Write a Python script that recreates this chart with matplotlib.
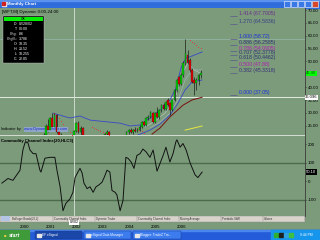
import matplotlib
matplotlib.use('Agg')
import matplotlib.pyplot as plt
from matplotlib.patches import Rectangle
import matplotlib.transforms as mtrans
import numpy as np

plt.rcParams['font.family'] = ['Liberation Sans', 'DejaVu Sans']

# ---------------- data ----------------
candle_months = [
    '1999-01','1999-02','1999-03','1999-04','1999-05','1999-06','1999-07','1999-08','1999-09','1999-10','1999-11','1999-12',
    '2000-01','2000-02','2000-03','2000-04','2000-05','2000-06','2000-07','2000-08','2000-09','2000-10','2000-11','2000-12',
    '2001-01','2001-02','2001-03','2001-04','2001-05','2001-06','2001-07','2001-08','2001-09','2001-10','2001-11','2001-12',
    '2002-01','2002-02','2002-03','2002-04','2002-05','2002-06','2002-07','2002-08','2002-09','2002-10','2002-11','2002-12',
    '2003-01','2003-02','2003-03','2003-04','2003-05','2003-06','2003-07','2003-08','2003-09','2003-10','2003-11','2003-12',
    '2004-01','2004-02','2004-03','2004-04','2004-05','2004-06','2004-07','2004-08','2004-09','2004-10','2004-11','2004-12',
    '2005-01','2005-02','2005-03','2005-04','2005-05','2005-06','2005-07','2005-08','2005-09','2005-10','2005-11','2005-12',
    '2006-01','2006-02','2006-03','2006-04','2006-05','2006-06','2006-07','2006-08','2006-09','2006-10','2006-11','2006-12']
opens = [10.5,9.0,9.5,12.6,15.2,14.0,16.3,17.8,17.0,15.6,14.4,15.0,
         17.0,19.0,20.4,19.2,17.6,20.0,18.8,17.0,19.6,19.0,17.4,19.0,
         21.5,25.0,23.5,28.0,24.5,29.0,22.5,21.0,18.0,14.0,15.8,15.0,
         16.8,19.35,22.85,26.0,22.5,24.0,19.5,17.0,18.6,16.8,19.0,18.2,
         19.8,19.0,18.4,19.6,21.8,22.5,21.0,19.2,17.4,17.2,18.2,17.6,
         19.2,20.8,22.4,23.4,22.6,23.5,23.0,23.5,24.5,26.4,25.3,28.0,
         28.4,29.8,26.4,29.9,28.4,31.1,33.0,31.5,35.0,33.8,31.1,35.0,
         38.9,43.9,41.2,44.7,49.4,52.5,50.5,46.7,42.8,41.6,42.8,44.7]
highs = [11.5,10.0,13.0,15.8,16.0,16.6,18.2,19.0,17.8,16.4,15.8,17.5,
         19.5,20.8,21.2,20.5,20.6,21.0,19.6,20.0,21.2,19.8,19.5,22.0,
         25.5,27.5,28.5,30.0,29.9,29.5,24.0,22.0,18.5,16.5,16.6,17.2,
         19.6,23.52,26.5,26.8,25.0,24.5,20.2,19.5,19.2,19.4,20.0,20.2,
         20.6,19.8,20.4,22.0,23.3,23.0,21.4,19.8,18.2,18.6,19.0,19.6,
         21.2,22.8,23.6,24.0,23.8,24.4,24.0,25.2,26.8,26.9,28.4,29.0,
         30.8,30.2,30.4,32.4,31.6,33.5,33.8,34.6,35.6,34.2,35.4,39.3,
         43.2,44.5,45.5,50.0,58.72,54.5,51.5,47.5,44.0,43.5,45.2,46.5]
lows = [8.5,8.2,9.2,12.0,13.5,13.6,15.5,16.5,15.0,13.8,13.5,14.6,
        16.2,17.8,18.5,17.0,17.2,18.0,16.5,16.8,18.5,16.5,16.0,18.5,
        21.0,22.5,23.0,24.0,24.0,22.0,20.0,17.0,12.5,13.5,14.2,14.0,
        16.4,18.255,22.5,22.0,21.5,19.0,16.0,16.4,16.2,16.0,17.8,17.8,
        18.6,17.6,18.0,19.2,21.0,20.5,18.6,17.0,16.4,16.8,17.0,17.2,
        18.8,20.2,21.6,22.2,21.8,22.6,22.4,23.0,24.0,24.8,25.0,27.2,
        28.0,26.0,26.0,28.0,27.5,30.5,31.0,31.0,32.6,29.1,30.8,34.5,
        38.2,40.5,40.8,44.0,48.8,49.0,46.0,41.5,37.05,39.0,41.0,43.5]
closes = [9.0,9.5,12.6,15.2,14.0,16.3,17.8,17.0,15.6,14.4,15.0,17.0,
          19.0,20.4,19.2,17.6,20.0,18.8,17.0,19.6,19.0,17.4,19.0,21.5,
          25.0,23.5,28.0,24.5,29.0,22.5,21.0,18.0,14.0,15.8,15.0,16.8,
          19.35,22.85,26.0,22.5,24.0,19.5,17.0,18.6,16.8,19.0,18.2,19.8,
          19.0,18.4,19.6,21.8,22.5,21.0,19.2,17.4,17.2,18.2,17.6,19.2,
          20.8,22.4,23.4,22.6,23.5,23.0,23.5,24.5,26.4,25.3,28.0,28.4,
          30.3,26.4,29.9,28.4,31.1,33.0,31.5,34.2,33.0,31.1,35.0,38.9,
          42.8,41.2,44.7,49.4,53.3,49.4,46.7,42.0,41.6,42.8,44.7,45.4]

upper_band_t = [2001.28,2001.55,2001.93,2002.31,2002.69,2003.07,2003.45,2003.84,2004.22,2004.60,2004.98,2005.36,2005.74,2005.97,2006.16,2006.35,2006.58,2006.97]
upper_band_v = [29.9,29.1,28.0,28.8,27.2,26.8,26.4,26.0,24.9,25.3,28.0,31.1,35.0,39.6,47.4,51.3,52.1,53.7]
lower_band_t = [2004.52,2004.98,2005.36,2005.74,2006.05,2006.32,2006.58,2006.97]
lower_band_v = [21.4,23.3,25.6,29.1,33.8,38.9,42.0,42.8]
fast_ma_t = [2004.79,2005.17,2005.55,2005.82,2006.05,2006.24,2006.43,2006.66,2006.97]
fast_ma_v = [24.5,26.8,29.9,33.4,38.9,45.9,49.4,46.7,45.1]
mid_ma_t = [2004.98,2005.36,2005.74,2006.05,2006.32,2006.58,2006.97]
mid_ma_v = [24.1,26.4,29.9,35.0,42.8,46.7,46.7]
slow_ma_t = [2005.06,2005.36,2005.74,2006.24,2006.58,2006.97]
slow_ma_v = [21.75,24.1,28.4,33.0,35.0,36.1]
yellow_t = [2006.32,2006.97]
yellow_v = [23.3,24.9]
sar_t = [2001.33,2001.42,2001.50,2001.58,2001.67,2001.75,2001.83,2001.92,2002.00,
         2002.75,2002.83,2002.92,2003.00,2003.08,2003.17,2003.25,2003.33,2003.42,
         2004.50,2004.58,2004.67,2004.75,
         2006.50,2006.58,2006.67,2006.75,2006.83,2006.92]
sar_v = [29.9,29.0,27.9,26.8,25.6,24.5,23.4,22.4,21.4,
         24.5,24.1,23.7,23.3,22.9,22.5,22.1,21.7,21.4,
         24.1,23.4,22.8,22.2,
         58.3,57.7,57.0,56.4,55.8,55.2]

fib_ratios = ['1.414','1.270','1.000','0.886','0.786','0.707','0.618','0.500','0.382','0.000']
fib_levels = [67.7005,64.5836,58.72,56.2585,54.0905,52.3778,50.4462,47.88,45.3318,37.05]
fib_colors = ['#6a2c8c','#3a3f86','#1a2ee0','#2b2f70','#b020b0','#2b2f70','#2b2f70','#b020b0','#3a2f78','#1a2ee0']

cci_t = [1999.33,1999.56,1999.75,2000.02,2000.13,2000.21,2000.32,2000.40,2000.52,2000.63,2000.78,2000.82,2000.97,
         2001.16,2001.35,2001.43,2001.55,2001.66,2001.77,2001.93,2002.04,2002.12,2002.23,2002.31,2002.39,2002.46,
         2002.58,2002.69,2002.81,2002.92,2003.03,2003.15,2003.23,2003.34,2003.45,2003.53,2003.65,2003.72,2003.84,
         2003.95,2004.06,2004.14,2004.26,2004.37,2004.48,2004.60,2004.71,2004.83,2004.98,2005.10,2005.25,2005.48,
         2005.59,2005.74,2005.86,2005.97,2006.01,2006.13,2006.24,2006.36,2006.51,2006.70,2006.81,2006.97]
cci_v = [-10,15,5,60,170,210,210,170,150,150,60,50,125,
         130,130,60,-30,-160,-120,-95,-60,20,50,70,45,-10,
         -40,-30,-60,-30,-20,-5,20,60,50,-50,-60,-75,-160,
         -105,130,125,105,70,140,150,175,160,130,170,55,140,
         185,105,150,215,225,185,205,170,100,35,20,50]

price_ticks = [25,30,35,40,45,50,55,60,65,70]
cci_ticks = [-100,0,100,200]
year_ticks = [2000,2001,2002,2003,2004,2005,2006]
cross_t = 2002.083
cross_price = 36.096
last_price = 45.40
last_cci = 50.10

# ---------------- figure ----------------
W, H = 320, 240
BG = '#7b9b7b'
fig = plt.figure(figsize=(3.2, 2.4), dpi=100)
fig.patch.set_facecolor(BG)

def fr(x0, y0, x1, y1):
    return [x0 / W, 1 - y1 / H, (x1 - x0) / W, (y1 - y0) / H]

# chrome (pixel coordinates, y down)
bg = fig.add_axes([0, 0, 1, 1], zorder=0)
bg.set_xlim(0, W); bg.set_ylim(H, 0); bg.axis('off')
bg.add_patch(Rectangle((0, 0), W, 8, color='#2f6ddc'))
bg.add_patch(Rectangle((0, 0), W, 1.2, color='#5a92ee'))
bg.add_patch(Rectangle((1.5, 1.5), 4, 4.5, color='#f2f2f2'))
bg.add_patch(Rectangle((2.3, 2.3), 2.4, 2.8, color='#d02020'))
bg.text(7, 4.2, 'Monthly Chart', color='white', fontsize=3.2, fontweight='bold', va='center')
for bx, col in [(284, '#3a78e6'), (291, '#3a78e6'), (298, '#3a78e6'), (305, '#3a78e6'), (312, '#d8482a')]:
    bg.add_patch(Rectangle((bx, 1), 6, 6, facecolor=col, edgecolor='white', lw=0.4))
# separator between panels
bg.plot([0, 305], [135, 135], color='#d6dcd2', lw=1.4, solid_capstyle='butt')
# tab strip
bg.add_patch(Rectangle((0, 215.5), 305, 6, facecolor='#d8d4cc', edgecolor='#8a8a8a', lw=0.3))
bg.add_patch(Rectangle((1, 216.3), 9, 4.4, facecolor='#b4c4e4', lw=0))
tabs = ['Bollinger Bands(20,2)', 'Commodity Channel Index', 'Dynamic Trader', 'Commodity Channel Index',
        'Moving Average', 'Parabolic SAR', 'Volume']
tx = 11
for t in tabs:
    bg.text(tx + 1, 218.6, t, fontsize=2.0, color='#303030', va='center')
    tx += 42
    bg.plot([tx, tx], [216, 221], color='#808080', lw=0.3)
# taskbar
bg.add_patch(Rectangle((0, 230), W, 10, color='#245bd8'))
bg.add_patch(Rectangle((0, 230), W, 0.8, color='#4a86ee'))
bg.add_patch(Rectangle((0, 230), 29, 10, color='#3f9a3a'))
bg.text(4, 235.2, '\u25a0', fontsize=3, color='#f0d040', va='center')
bg.text(9, 235.2, 'start', fontsize=3.8, color='white', fontweight='bold', style='italic', va='center')
for bx, bw, col, lab in [(35, 47, '#1b47a8', 'EF eSignal'), (84, 47, '#3c7cee', 'eSignal Data Manager'),
                         (133, 48, '#3c7cee', 'Blogger: TradeZ Tra...')]:
    bg.add_patch(Rectangle((bx, 231.2), bw, 8, facecolor=col, edgecolor='#1a3c90', lw=0.3))
    bg.add_patch(Rectangle((bx + 2, 233.5), 3.5, 3.5, color='#e8e8e8'))
    bg.text(bx + 7, 235.3, lab, fontsize=2.3, color='white', va='center')
bg.add_patch(Rectangle((271, 230), 49, 10, color='#1596ec'))
for ix, c in [(274, '#30b030'), (279, '#202020'), (284, '#30a0e0'), (289, '#40c040')]:
    bg.add_patch(Rectangle((ix, 233), 3.5, 4, color=c))
bg.text(300, 235.3, '9:44 PM', fontsize=2.4, color='white', va='center')

# price panel
ax_p = fig.add_axes(fr(0, 8, 305, 135), zorder=2)
ax_p.set_facecolor(BG)
xl = (1999.256, 2010.897)
ax_p.set_xlim(*xl); ax_p.set_ylim(21.4, 70.8)
for s in ['left', 'top', 'bottom']:
    ax_p.spines[s].set_visible(False)
ax_p.spines['right'].set_color('#3a3a3a'); ax_p.spines['right'].set_linewidth(0.6)
ax_p.set_xticks([])
ax_p.yaxis.tick_right()
ax_p.set_yticks(price_ticks)
# the 45.00 label sits under the last-price marker, as in the reference
ax_p.set_yticklabels(['' if t == 45 else f'{t:.2f}' for t in price_ticks])
ax_p.tick_params(axis='y', length=1, width=0.4, pad=0.8, labelsize=3.2, colors='black')

ax_p.axhline(58.72, color='#95b8aa', lw=0.5, zorder=1)
ax_p.axhline(cross_price, color='#e4ece4', lw=0.7, zorder=1)
ax_p.axvline(cross_t, color='#d8e4d8', lw=0.6, zorder=1)

ax_p.plot(upper_band_t, upper_band_v, color='#3b48c8', lw=0.6, zorder=2)
ax_p.plot(lower_band_t, lower_band_v, color='#3b48c8', lw=0.6, zorder=2)
ax_p.plot(fast_ma_t, fast_ma_v, color='#c0cccc', lw=0.4, zorder=2)
ax_p.plot(mid_ma_t, mid_ma_v, color='#a8b8c0', lw=0.4, zorder=2)
ax_p.plot(slow_ma_t, slow_ma_v, color='#7a1010', lw=0.7, zorder=2)
ax_p.plot(yellow_t, yellow_v, color='#e8e840', lw=0.7, zorder=2)
ax_p.scatter(sar_t, sar_v, s=0.6, color='#e03838', zorder=2, linewidths=0)

cd = np.array([int(m[:4]) + (int(m[5:]) - 1) / 12 for m in candle_months])
o = np.array(opens); h = np.array(highs); l = np.array(lows); c = np.array(closes)
up = c >= o
ax_p.vlines(cd, l, h, color='black', lw=0.4, zorder=3)
ax_p.bar(cd[up], (c - o)[up], bottom=o[up], width=0.065, color='#00cc00', edgecolor='#103010', lw=0.2, zorder=4)
ax_p.bar(cd[~up], (o - c)[~up], bottom=c[~up], width=0.065, color='#e00000', edgecolor='#301010', lw=0.2, zorder=4)

# fibonacci labels
seg_x0, seg_x1, lab_x = 2008.03, 2008.30, 2008.36
ax_p.hlines(fib_levels, seg_x0, seg_x1, colors='#5a5a8a', lw=0.5, zorder=2)
for r, v, col in zip(fib_ratios, fib_levels, fib_colors):
    val = f'{v:.4f}'.rstrip('0').rstrip('.')
    ax_p.text(lab_x, v, f'{r} ({val})', fontsize=3.7, color=col, va='bottom', ha='left', zorder=5)

ax_p.text(0.006, 0.985, '[WFT,M] Dynamic 0:00-24:00', transform=ax_p.transAxes, fontsize=3.2,
          color='black', va='top', ha='left')
ax_p.text(0.004, 0.045, 'Indicator by ', transform=ax_p.transAxes, fontsize=2.8, color='black', va='center')
ax_p.text(0.08, 0.045, 'www.DynamicTrader.com', transform=ax_p.transAxes, fontsize=2.8, color='#1a28c8',
          va='center', bbox=dict(boxstyle='square,pad=0.1', facecolor='#8fa6c8', edgecolor='none'))

blend_p = mtrans.blended_transform_factory(ax_p.transAxes, ax_p.transData)
ax_p.text(1.004, last_price, f'{last_price:.2f}', transform=blend_p, fontsize=3.0, color='#006000',
          va='center', ha='left', clip_on=False, zorder=6,
          bbox=dict(boxstyle='square,pad=0.15', facecolor='#00ff00', edgecolor='none'))
ax_p.text(1.001, cross_price, f'{cross_price:.3f}', transform=blend_p, fontsize=3.0, color='black',
          va='center', ha='left', clip_on=False, zorder=6,
          bbox=dict(boxstyle='square,pad=0.12', facecolor='white', edgecolor='none'))

# CCI panel
ax_c = fig.add_axes(fr(0, 135.8, 305, 215.5), zorder=2)
ax_c.set_facecolor(BG)
ax_c.set_xlim(*xl); ax_c.set_ylim(-186, 247)
for s in ['left', 'top', 'bottom']:
    ax_c.spines[s].set_visible(False)
ax_c.spines['right'].set_color('#3a3a3a'); ax_c.spines['right'].set_linewidth(0.6)
ax_c.yaxis.tick_right()
ax_c.set_yticks(cci_ticks)
ax_c.set_yticklabels([str(t) for t in cci_ticks])
ax_c.tick_params(axis='y', length=1, width=0.4, pad=0.8, labelsize=3.2, colors='black')
ax_c.set_xticks(year_ticks)
ax_c.set_xticklabels([str(y) for y in year_ticks], ha='left')
ax_c.tick_params(axis='x', length=0, pad=6.8, labelsize=3.2, colors='black')
ax_c.axhline(100, color='#4c6a4c', lw=1.0, zorder=1)
ax_c.axhline(-100, color='#4c6a4c', lw=1.0, zorder=1)
ax_c.axvline(cross_t, color='#d8e4d8', lw=0.6, zorder=1)
ax_c.plot(cci_t, cci_v, color='#111111', lw=0.7, zorder=3)
ax_c.text(0.004, 0.96, 'Commodity Channel Index(20,HLC3)', transform=ax_c.transAxes, fontsize=3.1,
          fontweight='bold', color='black', va='top', ha='left')
blend_c = mtrans.blended_transform_factory(ax_c.transAxes, ax_c.transData)
ax_c.text(1.004, last_cci, f'{last_cci:.2f}', transform=blend_c, fontsize=3.0, color='white',
          va='center', ha='left', clip_on=False, zorder=6,
          bbox=dict(boxstyle='square,pad=0.15', facecolor='black', edgecolor='none'))
blend_cx = mtrans.blended_transform_factory(ax_c.transData, ax_c.transAxes)
ax_c.text(cross_t, -0.085, '02/02', transform=blend_cx, fontsize=2.6, color='black', ha='center', va='center',
          clip_on=False, zorder=6, bbox=dict(boxstyle='square,pad=0.15', facecolor='white', edgecolor='none'))

# data window overlay
ov = fig.add_axes([0, 0, 1, 1], zorder=10)
ov.set_xlim(0, W); ov.set_ylim(H, 0); ov.axis('off'); ov.patch.set_alpha(0)
ov.add_patch(Rectangle((3, 16), 41, 46.5, facecolor='black', edgecolor='#c0c0c0', lw=0.3))
ov.add_patch(Rectangle((4, 17), 39, 4, facecolor='#00ee00', lw=0))
ov.text(23.5, 19.1, 'OK', fontsize=2.5, color='black', ha='center', va='center')
rows = [('D:', '02/28/02'), ('T:', '00:00'), ('Chg:', '.86'), ('Chg%:', '3.786'),
        ('O:', '19.35'), ('H:', '23.52'), ('L:', '18.255'), ('C:', '22.85')]
for i, (k, v) in enumerate(rows):
    yy = 24.3 + i * 4.9
    ov.text(17.5, yy, k, fontsize=2.6, color='white', ha='right', va='center')
    ov.text(18.5, yy, v, fontsize=2.6, color='white', ha='left', va='center')

fig.savefig('out.png', dpi=100, facecolor=BG)
